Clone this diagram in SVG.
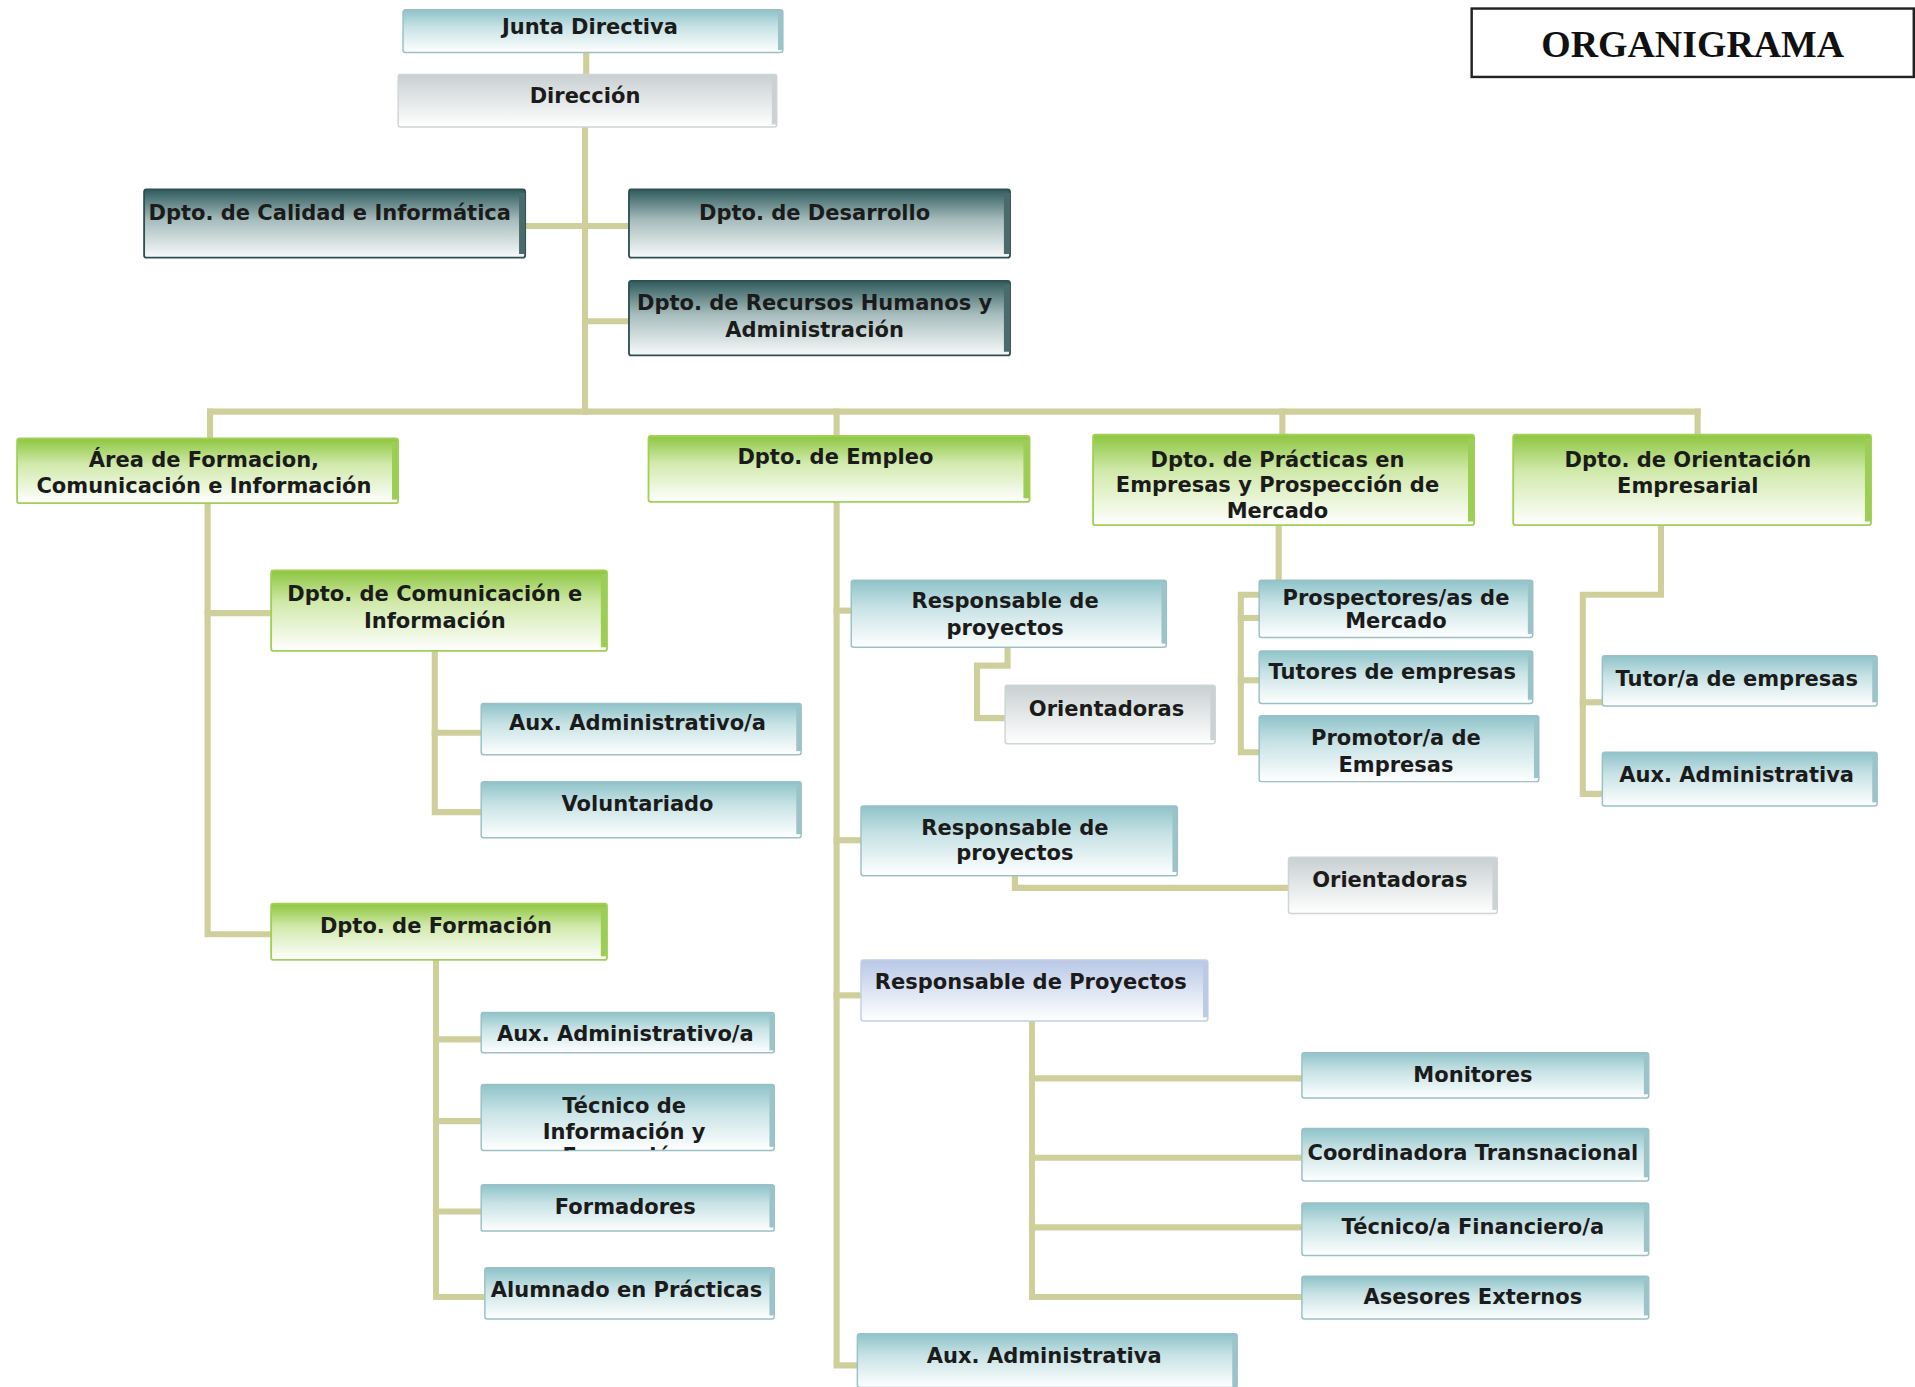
<svg xmlns="http://www.w3.org/2000/svg" width="1915" height="1387" viewBox="0 0 1915 1387">
<style>
.t{font-family:"DejaVu Sans",Verdana,sans-serif;font-weight:bold;font-size:17.2px;fill:#1b1b1b;text-anchor:middle}
.title{font-family:"Liberation Serif","Times New Roman",serif;font-weight:bold;font-size:31px;fill:#111;text-anchor:middle}
.c{fill:none;stroke:#cfcf9c;stroke-width:5;stroke-linejoin:miter;stroke-linecap:square}
.teal{fill:url(#gTeal);stroke:#9cc0c4;stroke-width:1.2}
.dark{fill:url(#gDark);stroke:#2f4f50;stroke-width:1.5}
.green{fill:url(#gGreen);stroke:#a3cf55;stroke-width:1.5}
.gray{fill:url(#gGray);stroke:#cfd4d6;stroke-width:1.2}
.lav{fill:url(#gLav);stroke:#c4cfe3;stroke-width:1.2}
.s-teal{fill:#9cc3c8}
.s-dark{fill:#4a6a6b}
.s-green{fill:#9ccd55}
.s-gray{fill:#ccd2d4}
.s-lav{fill:#bccae3}
</style>
<defs>
<linearGradient id="gTeal" x1="0" y1="0" x2="0" y2="1"><stop offset="0" stop-color="#8ec3c9"/><stop offset="0.4" stop-color="#c7e2e5"/><stop offset="1" stop-color="#ffffff"/></linearGradient>
<linearGradient id="gDark" x1="0" y1="0" x2="0" y2="1"><stop offset="0" stop-color="#2e5a5c"/><stop offset="0.45" stop-color="#a7bcbd"/><stop offset="1" stop-color="#f8fafa"/></linearGradient>
<linearGradient id="gGreen" x1="0" y1="0" x2="0" y2="1"><stop offset="0" stop-color="#8dc63f"/><stop offset="0.4" stop-color="#d1e9ab"/><stop offset="1" stop-color="#ffffff"/></linearGradient>
<linearGradient id="gGray" x1="0" y1="0" x2="0" y2="1"><stop offset="0" stop-color="#c9d0d2"/><stop offset="1" stop-color="#ffffff"/></linearGradient>
<linearGradient id="gLav" x1="0" y1="0" x2="0" y2="1"><stop offset="0" stop-color="#b9c8e6"/><stop offset="1" stop-color="#ffffff"/></linearGradient>
<clipPath id="clipTec"><rect x="394" y="888" width="240" height="54"/></clipPath>
</defs>
<rect width="1915" height="1387" fill="#ffffff"/>
<g transform="scale(1.2213)">
<g id="connectors">
<path class="c" d="M480,43 V61"/>
<path class="c" d="M479,104 V337"/>
<path class="c" d="M430,185 H515"/>
<path class="c" d="M479,263 H515"/>
<path class="c" d="M172,337 H1390"/>
<path class="c" d="M172,337 V359"/>
<path class="c" d="M685,337 V357"/>
<path class="c" d="M1050,337 V356"/>
<path class="c" d="M1390,337 V356"/>
<path class="c" d="M170,412 V765 H222"/>
<path class="c" d="M170,502 H222"/>
<path class="c" d="M356,533 V665 H394"/>
<path class="c" d="M356,600 H394"/>
<path class="c" d="M357,786 V1062 H394"/>
<path class="c" d="M357,851 H394"/>
<path class="c" d="M357,918 H394"/>
<path class="c" d="M357,992 H394"/>
<path class="c" d="M685,411 V1118 H702"/>
<path class="c" d="M685,500 H697"/>
<path class="c" d="M685,688 H705"/>
<path class="c" d="M685,815 H705"/>
<path class="c" d="M825,530 V545 H800 V588 H823"/>
<path class="c" d="M831,717 V727 H1055"/>
<path class="c" d="M845,836 V1062 H1066"/>
<path class="c" d="M845,883 H1066"/>
<path class="c" d="M845,948 H1066"/>
<path class="c" d="M845,1005 H1066"/>
<path class="c" d="M1047,430 V487 H1016 V616 H1031"/>
<path class="c" d="M1016,506 H1031"/>
<path class="c" d="M1016,557 H1031"/>
<path class="c" d="M1360,430 V487 H1296 V650 H1312"/>
<path class="c" d="M1296,575 H1312"/>
</g>

<g id="title">
<rect x="1205" y="7" width="362" height="56" fill="#fff" stroke="#222" stroke-width="2"/>
<text class="title" x="1386" y="47">ORGANIGRAMA</text>
</g>

<g id="junta"><rect class="teal" x="330" y="8" width="311" height="35" rx="2"/><rect class="s-teal" x="637" y="10" width="4" height="31"/><text class="t" x="483" y="28">Junta Directiva</text></g>
<g id="direccion"><rect class="gray" x="326" y="61" width="310" height="43" rx="2"/><rect class="s-gray" x="632" y="63" width="4" height="39"/><text class="t" x="479" y="84">Dirección</text></g>
<g id="calidad"><rect class="dark" x="118" y="155" width="312" height="56" rx="2"/><rect class="s-dark" x="425" y="158" width="5" height="50"/><text class="t" x="270" y="180">Dpto. de Calidad e Informática</text></g>
<g id="desarrollo"><rect class="dark" x="515" y="155" width="312" height="56" rx="2"/><rect class="s-dark" x="822" y="158" width="5" height="50"/><text class="t" x="667" y="180">Dpto. de Desarrollo</text></g>
<g id="rrhh"><rect class="dark" x="515" y="230" width="312" height="61" rx="2"/><rect class="s-dark" x="822" y="233" width="5" height="55"/><text class="t" x="667" y="254">Dpto. de Recursos Humanos y</text><text class="t" x="667" y="276">Administración</text></g>

<g id="area"><rect class="green" x="14" y="359" width="312" height="53" rx="2"/><rect class="s-green" x="321" y="362" width="5" height="47"/><text class="t" x="167" y="382">Área de Formacion,</text><text class="t" x="167" y="404">Comunicación e Información</text></g>
<g id="empleo"><rect class="green" x="531" y="357" width="312" height="54" rx="2"/><rect class="s-green" x="838" y="360" width="5" height="48"/><text class="t" x="684" y="380">Dpto. de Empleo</text></g>
<g id="practicas"><rect class="green" x="895" y="356" width="312" height="74" rx="2"/><rect class="s-green" x="1202" y="359" width="5" height="68"/><text class="t" x="1046" y="382">Dpto. de Prácticas en</text><text class="t" x="1046" y="403">Empresas y Prospección de</text><text class="t" x="1046" y="424">Mercado</text></g>
<g id="orientacion"><rect class="green" x="1239" y="356" width="293" height="74" rx="2"/><rect class="s-green" x="1527" y="359" width="5" height="68"/><text class="t" x="1382" y="382">Dpto. de Orientación</text><text class="t" x="1382" y="404">Empresarial</text></g>

<g id="comunicacion"><rect class="green" x="222" y="467" width="275" height="66" rx="2"/><rect class="s-green" x="492" y="470" width="5" height="60"/><text class="t" x="356" y="492">Dpto. de Comunicación e</text><text class="t" x="356" y="514">Información</text></g>
<g id="aux-com"><rect class="teal" x="394" y="576" width="262" height="42" rx="2"/><rect class="s-teal" x="652" y="579" width="4" height="36"/><text class="t" x="522" y="598">Aux. Administrativo/a</text></g>
<g id="voluntariado"><rect class="teal" x="394" y="640" width="262" height="46" rx="2"/><rect class="s-teal" x="652" y="643" width="4" height="40"/><text class="t" x="522" y="664">Voluntariado</text></g>
<g id="formacion"><rect class="green" x="222" y="740" width="275" height="46" rx="2"/><rect class="s-green" x="492" y="743" width="5" height="40"/><text class="t" x="357" y="764">Dpto. de Formación</text></g>
<g id="aux-for"><rect class="teal" x="394" y="829" width="240" height="33" rx="2"/><rect class="s-teal" x="630" y="831" width="4" height="29"/><text class="t" x="512" y="852">Aux. Administrativo/a</text></g>
<g id="tecnico"><rect class="teal" x="394" y="888" width="240" height="54" rx="2"/><rect class="s-teal" x="630" y="891" width="4" height="48"/><g clip-path="url(#clipTec)"><text class="t" x="511" y="911">Técnico de</text><text class="t" x="511" y="933">Información y</text><text class="t" x="511" y="952">Formación</text></g></g>
<g id="formadores"><rect class="teal" x="394" y="970" width="240" height="38" rx="2"/><rect class="s-teal" x="630" y="973" width="4" height="32"/><text class="t" x="512" y="994">Formadores</text></g>
<g id="alumnado"><rect class="teal" x="397" y="1038" width="237" height="42" rx="2"/><rect class="s-teal" x="630" y="1041" width="4" height="36"/><text class="t" x="513" y="1062">Alumnado en Prácticas</text></g>

<g id="resp1"><rect class="teal" x="697" y="475" width="258" height="55" rx="2"/><rect class="s-teal" x="951" y="478" width="4" height="49"/><text class="t" x="823" y="498">Responsable de</text><text class="t" x="823" y="520">proyectos</text></g>
<g id="orient1"><rect class="gray" x="823" y="561" width="172" height="48" rx="2"/><rect class="s-gray" x="991" y="564" width="4" height="42"/><text class="t" x="906" y="586">Orientadoras</text></g>
<g id="resp2"><rect class="teal" x="705" y="660" width="259" height="57" rx="2"/><rect class="s-teal" x="960" y="663" width="4" height="51"/><text class="t" x="831" y="684">Responsable de</text><text class="t" x="831" y="704">proyectos</text></g>
<g id="orient2"><rect class="gray" x="1055" y="702" width="171" height="46" rx="2"/><rect class="s-gray" x="1222" y="705" width="4" height="40"/><text class="t" x="1138" y="726">Orientadoras</text></g>
<g id="respP"><rect class="lav" x="705" y="786" width="284" height="50" rx="2"/><rect class="s-lav" x="985" y="789" width="4" height="44"/><text class="t" x="844" y="810">Responsable de Proyectos</text></g>
<g id="monitores"><rect class="teal" x="1066" y="862" width="284" height="37" rx="2"/><rect class="s-teal" x="1346" y="865" width="4" height="31"/><text class="t" x="1206" y="886">Monitores</text></g>
<g id="coordinadora"><rect class="teal" x="1066" y="924" width="284" height="43" rx="2"/><rect class="s-teal" x="1346" y="927" width="4" height="37"/><text class="t" x="1206" y="950">Coordinadora Transnacional</text></g>
<g id="tecfin"><rect class="teal" x="1066" y="985" width="284" height="43" rx="2"/><rect class="s-teal" x="1346" y="988" width="4" height="37"/><text class="t" x="1206" y="1010">Técnico/a Financiero/a</text></g>
<g id="asesores"><rect class="teal" x="1066" y="1045" width="284" height="35" rx="2"/><rect class="s-teal" x="1346" y="1048" width="4" height="29"/><text class="t" x="1206" y="1068">Asesores Externos</text></g>
<g id="aux-emp"><rect class="teal" x="702" y="1092" width="311" height="44" rx="2"/><rect class="s-teal" x="1009" y="1095" width="4" height="41"/><text class="t" x="855" y="1116">Aux. Administrativa</text></g>

<g id="prospectores"><rect class="teal" x="1031" y="475" width="224" height="47" rx="2"/><rect class="s-teal" x="1251" y="478" width="4" height="41"/><text class="t" x="1143" y="495">Prospectores/as de</text><text class="t" x="1143" y="514">Mercado</text></g>
<g id="tutores"><rect class="teal" x="1031" y="533" width="224" height="43" rx="2"/><rect class="s-teal" x="1251" y="536" width="4" height="37"/><text class="t" x="1140" y="556">Tutores de empresas</text></g>
<g id="promotor"><rect class="teal" x="1031" y="586" width="229" height="54" rx="2"/><rect class="s-teal" x="1256" y="589" width="4" height="48"/><text class="t" x="1143" y="610">Promotor/a de</text><text class="t" x="1143" y="632">Empresas</text></g>
<g id="tutora"><rect class="teal" x="1312" y="537" width="225" height="41" rx="2"/><rect class="s-teal" x="1533" y="540" width="4" height="35"/><text class="t" x="1422" y="562">Tutor/a de empresas</text></g>
<g id="aux-ori"><rect class="teal" x="1312" y="616" width="225" height="44" rx="2"/><rect class="s-teal" x="1533" y="619" width="4" height="38"/><text class="t" x="1422" y="640">Aux. Administrativa</text></g>
</g>
</svg>
